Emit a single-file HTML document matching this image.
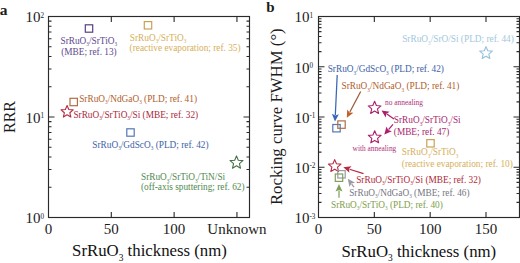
<!DOCTYPE html><html><head><meta charset="utf-8"><style>html,body{margin:0;padding:0;background:#fff;}svg{display:block;}text{font-family:"Liberation Serif",serif;}</style></head><body>
<svg width="520" height="263" viewBox="0 0 520 263" fill="#1c1c1c">
<rect width="520" height="263" fill="#fff"/>
<text x="-0.3" y="14.5" font-size="15.5" font-weight="bold">a</text>
<rect x="48.5" y="16.5" width="201.0" height="201.0" fill="none" stroke="#2a2a2a" stroke-width="1.15"/>
<path d="M48.5,217.50h6M249.5,217.50h-6M48.5,187.25h3M249.5,187.25h-3M48.5,169.55h3M249.5,169.55h-3M48.5,156.99h3M249.5,156.99h-3M48.5,147.25h3M249.5,147.25h-3M48.5,139.30h3M249.5,139.30h-3M48.5,132.57h3M249.5,132.57h-3M48.5,126.74h3M249.5,126.74h-3M48.5,121.60h3M249.5,121.60h-3M48.5,117.00h6M249.5,117.00h-6M48.5,86.75h3M249.5,86.75h-3M48.5,69.05h3M249.5,69.05h-3M48.5,56.49h3M249.5,56.49h-3M48.5,46.75h3M249.5,46.75h-3M48.5,38.80h3M249.5,38.80h-3M48.5,32.07h3M249.5,32.07h-3M48.5,26.24h3M249.5,26.24h-3M48.5,21.10h3M249.5,21.10h-3" stroke="#2a2a2a" stroke-width="1.1" fill="none"/>
<path d="M111.31,217.5v-5.5M111.31,16.5v5.5M174.12,217.5v-5.5M174.12,16.5v5.5M236.94,217.5v-5.5M236.94,16.5v5.5" stroke="#2a2a2a" stroke-width="1.1" fill="none"/>
<text x="25.4" y="223.30" font-size="15">10<tspan font-size="7.2" dy="-4.6">0</tspan></text>
<text x="25.4" y="122.80" font-size="15">10<tspan font-size="7.2" dy="-4.6">1</tspan></text>
<text x="25.4" y="22.30" font-size="15">10<tspan font-size="7.2" dy="-4.6">2</tspan></text>
<text x="48.50" y="233.5" font-size="15" text-anchor="middle">0</text>
<text x="111.31" y="233.5" font-size="15" text-anchor="middle">50</text>
<text x="174.12" y="233.5" font-size="15" text-anchor="middle">100</text>
<text x="236.94" y="233.5" font-size="15" text-anchor="middle">Unknown</text>
<text transform="translate(15,117) rotate(-90)" font-size="16" text-anchor="middle">RRR</text>
<text x="149.5" y="256.3" fill="#111" font-size="16.8" text-anchor="middle" >SrRuO<tspan font-size="9.41" dy="4.54">3</tspan><tspan dy="-4.54"> thickness (nm)</tspan></text>
<rect x="85.30" y="24.80" width="7.4" height="7.4" fill="none" stroke="#5a3f80" stroke-width="1.2"/>
<text x="60.5" y="43.5" fill="#604a8e" font-size="9.3" text-anchor="start" >SrRuO<tspan font-size="5.21" dy="2.51">3</tspan><tspan dy="-2.51">/SrTiO<tspan font-size="5.21" dy="2.51">3</tspan><tspan dy="-2.51"></tspan></tspan></text>
<text x="61.2" y="54.5" fill="#604a8e" font-size="9.3" text-anchor="start" >(MBE; ref. 13)</text>
<rect x="144.30" y="21.60" width="7.4" height="7.4" fill="none" stroke="#c8a452" stroke-width="1.2"/>
<text x="129.8" y="40.6" fill="#d6b05a" font-size="9.3" text-anchor="start" >SrRuO<tspan font-size="5.21" dy="2.51">3</tspan><tspan dy="-2.51">/SrTiO<tspan font-size="5.21" dy="2.51">3</tspan><tspan dy="-2.51"></tspan></tspan></text>
<text x="129.6" y="51.4" fill="#d6b05a" font-size="9.3" text-anchor="start" >(reactive evaporation; ref. 35)</text>
<rect x="70.00" y="98.30" width="7.4" height="7.4" fill="none" stroke="#b06e46" stroke-width="1.2"/>
<text x="79.2" y="101.5" fill="#b0602e" font-size="9.3" text-anchor="start" >SrRuO<tspan font-size="5.21" dy="2.51">3</tspan><tspan dy="-2.51">/NdGaO<tspan font-size="5.21" dy="2.51">3</tspan><tspan dy="-2.51"> (PLD; ref. 41)</tspan></tspan></text>
<polygon points="67.10,105.50 68.79,109.57 73.19,109.92 69.84,112.79 70.86,117.08 67.10,114.78 63.34,117.08 64.36,112.79 61.01,109.92 65.41,109.57" fill="none" stroke="#b82a44" stroke-width="1.1" stroke-linejoin="round"/>
<text x="73.4" y="117.9" fill="#a82a3c" font-size="9.3" text-anchor="start" >SrRuO<tspan font-size="5.21" dy="2.51">3</tspan><tspan dy="-2.51">/SrTiO<tspan font-size="5.21" dy="2.51">3</tspan><tspan dy="-2.51">/Si (MBE; ref. 32)</tspan></tspan></text>
<rect x="126.80" y="128.80" width="7.4" height="7.4" fill="none" stroke="#5676b6" stroke-width="1.2"/>
<text x="92.3" y="147.5" fill="#3d62a6" font-size="9.3" text-anchor="start" >SrRuO<tspan font-size="5.21" dy="2.51">3</tspan><tspan dy="-2.51">/GdScO<tspan font-size="5.21" dy="2.51">3</tspan><tspan dy="-2.51"> (PLD; ref. 42)</tspan></tspan></text>
<polygon points="236.50,155.90 238.30,160.22 242.97,160.60 239.41,163.65 240.50,168.20 236.50,165.76 232.50,168.20 233.59,163.65 230.03,160.60 234.70,160.22" fill="none" stroke="#4a7048" stroke-width="1.1" stroke-linejoin="round"/>
<text x="141" y="180" fill="#4f8a50" font-size="9.3" text-anchor="start" >SrRuO<tspan font-size="5.21" dy="2.51">3</tspan><tspan dy="-2.51">/SrTiO<tspan font-size="5.21" dy="2.51">3</tspan><tspan dy="-2.51">/TiN/Si</tspan></tspan></text>
<text x="141" y="190.3" fill="#4f8a50" font-size="9.3" text-anchor="start" >(off-axis sputtering; ref. 62)</text>
<text x="266.3" y="12.3" font-size="15" font-weight="bold">b</text>
<rect x="318.5" y="16.5" width="201.0" height="201.0" fill="none" stroke="#2a2a2a" stroke-width="1.15"/>
<path d="M318.5,217.50h6M519.5,217.50h-6M318.5,202.37h3M519.5,202.37h-3M318.5,193.52h3M519.5,193.52h-3M318.5,187.25h3M519.5,187.25h-3M318.5,182.38h3M519.5,182.38h-3M318.5,178.40h3M519.5,178.40h-3M318.5,175.03h3M519.5,175.03h-3M318.5,172.12h3M519.5,172.12h-3M318.5,169.55h3M519.5,169.55h-3M318.5,167.25h6M519.5,167.25h-6M318.5,152.12h3M519.5,152.12h-3M318.5,143.27h3M519.5,143.27h-3M318.5,137.00h3M519.5,137.00h-3M318.5,132.13h3M519.5,132.13h-3M318.5,128.15h3M519.5,128.15h-3M318.5,124.78h3M519.5,124.78h-3M318.5,121.87h3M519.5,121.87h-3M318.5,119.30h3M519.5,119.30h-3M318.5,117.00h6M519.5,117.00h-6M318.5,101.87h3M519.5,101.87h-3M318.5,93.02h3M519.5,93.02h-3M318.5,86.75h3M519.5,86.75h-3M318.5,81.88h3M519.5,81.88h-3M318.5,77.90h3M519.5,77.90h-3M318.5,74.53h3M519.5,74.53h-3M318.5,71.62h3M519.5,71.62h-3M318.5,69.05h3M519.5,69.05h-3M318.5,66.75h6M519.5,66.75h-6M318.5,51.62h3M519.5,51.62h-3M318.5,42.77h3M519.5,42.77h-3M318.5,36.50h3M519.5,36.50h-3M318.5,31.63h3M519.5,31.63h-3M318.5,27.65h3M519.5,27.65h-3M318.5,24.28h3M519.5,24.28h-3M318.5,21.37h3M519.5,21.37h-3M318.5,18.80h3M519.5,18.80h-3" stroke="#2a2a2a" stroke-width="1.1" fill="none"/>
<path d="M374.33,217.5v-5.5M374.33,16.5v5.5M430.17,217.5v-5.5M430.17,16.5v5.5M486.00,217.5v-5.5M486.00,16.5v5.5" stroke="#2a2a2a" stroke-width="1.1" fill="none"/>
<text x="294.4" y="223.30" font-size="15">10<tspan font-size="7.2" dy="-4.6">-3</tspan></text>
<text x="294.4" y="173.05" font-size="15">10<tspan font-size="7.2" dy="-4.6">-2</tspan></text>
<text x="294.4" y="122.80" font-size="15">10<tspan font-size="7.2" dy="-4.6">-1</tspan></text>
<text x="294.4" y="72.55" font-size="15">10<tspan font-size="7.2" dy="-4.6">0</tspan></text>
<text x="294.4" y="22.30" font-size="15">10<tspan font-size="7.2" dy="-4.6">1</tspan></text>
<text x="318.50" y="233.5" font-size="15" text-anchor="middle">0</text>
<text x="374.33" y="233.5" font-size="15" text-anchor="middle">50</text>
<text x="430.17" y="233.5" font-size="15" text-anchor="middle">100</text>
<text x="486.00" y="233.5" font-size="15" text-anchor="middle">150</text>
<text transform="translate(281.8,116.7) rotate(-90)" font-size="16.8" text-anchor="middle">Rocking curve FWHM (°)</text>
<text x="418.8" y="256.5" fill="#111" font-size="16.8" text-anchor="middle" >SrRuO<tspan font-size="9.41" dy="4.54">3</tspan><tspan dy="-4.54"> thickness (nm)</tspan></text>
<polygon points="486.00,46.60 487.75,50.80 492.28,51.16 488.82,54.12 489.88,58.54 486.00,56.17 482.12,58.54 483.18,54.12 479.72,51.16 484.25,50.80" fill="none" stroke="#94c0da" stroke-width="1.1" stroke-linejoin="round"/>
<text x="402.2" y="42" fill="#a2c8dc" font-size="9.3" text-anchor="start" >SrRuO<tspan font-size="5.21" dy="2.51">3</tspan><tspan dy="-2.51">/SrO/Si (PLD; ref. 44)</tspan></text>
<text x="327.7" y="72.4" fill="#3d62a6" font-size="9.3" text-anchor="start" >SrRuO<tspan font-size="5.21" dy="2.51">3</tspan><tspan dy="-2.51">/GdScO<tspan font-size="5.21" dy="2.51">3</tspan><tspan dy="-2.51"> (PLD; ref. 42)</tspan></tspan></text>
<line x1="337.2" y1="75" x2="335.31" y2="115.01" stroke="#3a66b8" stroke-width="1.25"/>
<polygon points="335,121.5 331.86,113.84 335.28,115.61 338.85,114.17" fill="#3a66b8"/>
<text x="341.5" y="89.2" fill="#b0602e" font-size="9.3" text-anchor="start" >SrRuO<tspan font-size="5.21" dy="2.51">3</tspan><tspan dy="-2.51">/NdGaO<tspan font-size="5.21" dy="2.51">3</tspan><tspan dy="-2.51"> (PLD; ref. 41)</tspan></tspan></text>
<line x1="360.7" y1="91.5" x2="349.85" y2="111.96" stroke="#9a5a3a" stroke-width="1.25"/>
<polygon points="346.8,117.7 347.22,109.43 349.57,112.49 353.41,112.71" fill="#c0602a"/>
<rect x="332.80" y="124.50" width="7.4" height="7.4" fill="none" stroke="#5676b6" stroke-width="1.2"/>
<rect x="337.80" y="120.90" width="7.4" height="7.4" fill="none" stroke="#b06e46" stroke-width="1.2"/>
<polygon points="374.60,101.30 376.37,105.56 380.97,105.93 377.47,108.93 378.54,113.42 374.60,111.02 370.66,113.42 371.73,108.93 368.23,105.93 372.83,105.56" fill="none" stroke="#ac1e6c" stroke-width="1.1" stroke-linejoin="round"/>
<polygon points="374.70,130.70 376.47,134.96 381.07,135.33 377.57,138.33 378.64,142.82 374.70,140.41 370.76,142.82 371.83,138.33 368.33,135.33 372.93,134.96" fill="none" stroke="#ac1e6c" stroke-width="1.1" stroke-linejoin="round"/>
<text x="385" y="105.1" fill="#b0307a" font-size="7.4" text-anchor="start" >no annealing</text>
<text x="352.6" y="151" fill="#b0307a" font-size="7.4" text-anchor="start" >with annealing</text>
<text x="393.8" y="123" fill="#a8286e" font-size="9.3" text-anchor="start" >SrRuO<tspan font-size="5.21" dy="2.51">3</tspan><tspan dy="-2.51">/SrTiO<tspan font-size="5.21" dy="2.51">3</tspan><tspan dy="-2.51">/Si</tspan></tspan></text>
<text x="393.8" y="134.6" fill="#a8286e" font-size="9.3" text-anchor="start" >(MBE; ref. 47)</text>
<line x1="394" y1="119" x2="386.86" y2="114.08" stroke="#ac1e6c" stroke-width="1.25"/>
<polygon points="381.5,110.4 389.66,111.77 386.36,113.74 385.70,117.53" fill="#ac1e6c"/>
<line x1="393" y1="124.4" x2="388.52" y2="129.65" stroke="#ac1e6c" stroke-width="1.25"/>
<polygon points="384.3,134.6 386.50,126.62 388.13,130.11 391.83,131.17" fill="#ac1e6c"/>
<rect x="426.80" y="139.60" width="7.4" height="7.4" fill="none" stroke="#c8a452" stroke-width="1.2"/>
<text x="401.8" y="155.3" fill="#d6b05a" font-size="9.3" text-anchor="start" >SrRuO<tspan font-size="5.21" dy="2.51">3</tspan><tspan dy="-2.51">/SrTiO<tspan font-size="5.21" dy="2.51">3</tspan><tspan dy="-2.51"></tspan></tspan></text>
<text x="401.8" y="166.6" fill="#d6b05a" font-size="9.3" text-anchor="start" >(reactive evaporation; ref. 10)</text>
<polygon points="334.70,159.60 336.45,163.80 340.98,164.16 337.52,167.12 338.58,171.54 334.70,169.17 330.82,171.54 331.88,167.12 328.42,164.16 332.95,163.80" fill="none" stroke="#b82a44" stroke-width="1.1" stroke-linejoin="round"/>
<rect x="337.80" y="170.60" width="7.4" height="7.4" fill="none" stroke="#9a9aa4" stroke-width="1.2"/>
<rect x="335.30" y="174.00" width="7.4" height="7.4" fill="none" stroke="#80a05a" stroke-width="1.2"/>
<line x1="363.5" y1="173.6" x2="349.51" y2="169.24" stroke="#b82a44" stroke-width="1.25"/>
<polygon points="343.3,167.3 351.50,166.19 348.93,169.06 349.42,172.87" fill="#b82a44"/>
<text x="356.2" y="182.6" fill="#b02838" font-size="9.3" text-anchor="start" >SrRuO<tspan font-size="5.21" dy="2.51">3</tspan><tspan dy="-2.51">/SrTiO<tspan font-size="5.21" dy="2.51">3</tspan><tspan dy="-2.51">/Si (MBE; ref. 32)</tspan></tspan></text>
<line x1="354" y1="187.2" x2="351.66" y2="184.03" stroke="#9a9aa4" stroke-width="1.25"/>
<polygon points="347.8,178.8 355.07,182.76 351.30,183.55 349.44,186.91" fill="#9a9aa4"/>
<text x="349.2" y="195.6" fill="#76767f" font-size="9.3" text-anchor="start" >SrRuO<tspan font-size="5.21" dy="2.51">3</tspan><tspan dy="-2.51">/NdGaO<tspan font-size="5.21" dy="2.51">3</tspan><tspan dy="-2.51"> (MBE; ref. 46)</tspan></tspan></text>
<line x1="339" y1="197.7" x2="339.00" y2="190.50" stroke="#80a05a" stroke-width="1.25"/>
<polygon points="339,184 342.50,191.50 339.00,189.90 335.50,191.50" fill="#80a05a"/>
<text x="331" y="207.7" fill="#80a04c" font-size="9.3" text-anchor="start" >SrRuO<tspan font-size="5.21" dy="2.51">3</tspan><tspan dy="-2.51">/SrTiO<tspan font-size="5.21" dy="2.51">3</tspan><tspan dy="-2.51"> (PLD; ref. 40)</tspan></tspan></text>
</svg></body></html>
